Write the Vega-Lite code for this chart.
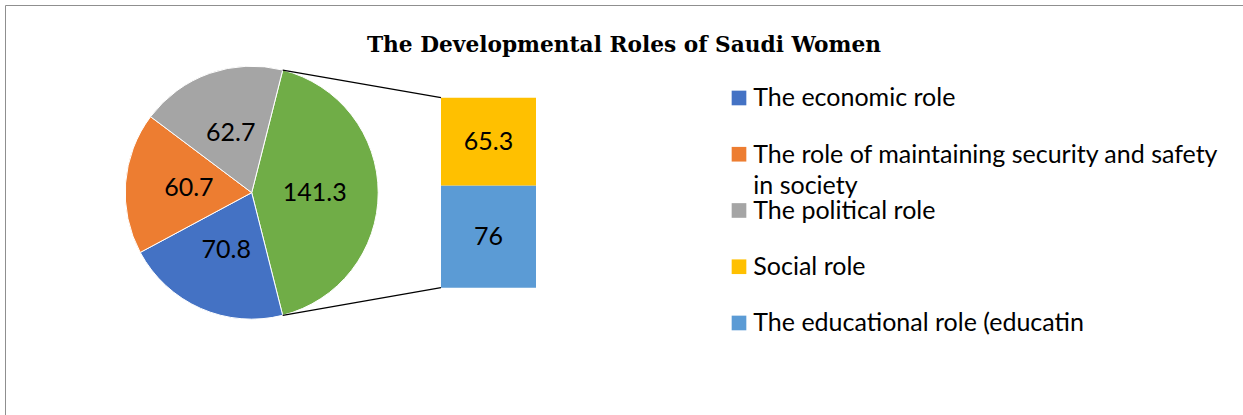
{
  "$schema": "https://vega.github.io/schema/vega-lite/v6.json",
  "width": 1238,
  "height": 410,
  "autosize": {"type": "none"},
  "padding": {"left": 5, "top": 5, "right": 0, "bottom": 0},
  "background": "#ffffff",
  "config": {"view": {"stroke": "#8f8f8f", "strokeWidth": 1}},
  "title": {
    "text": "The Developmental Roles of Saudi Women",
    "anchor": "middle",
    "frame": "group",
    "offset": -69,
    "baseline": "alphabetic",
    "font": "DejaVu Serif",
    "fontSize": 21.7,
    "fontWeight": "bold",
    "color": "#000000"
  },
  "datasets": {
    "pie": [
      {"role": "Other", "value": 141.3, "idx": 1},
      {"role": "The economic role", "value": 70.8, "idx": 2},
      {"role": "The role of maintaining security and safety in society", "value": 60.7, "idx": 3},
      {"role": "The political role", "value": 62.7, "idx": 4}
    ],
    "bar": [
      {"role": "The educational role (educatin", "value": 76, "idx": 1},
      {"role": "Social role", "value": 65.3, "idx": 2}
    ],
    "legend": [
      {"role": "The economic role", "label": "The economic role", "idx": 1},
      {"role": "The role of maintaining security and safety in society", "label": ["The role of maintaining security and safety", "in society"], "idx": 2},
      {"role": "The political role", "label": "The political role", "idx": 3},
      {"role": "Social role", "label": "Social role", "idx": 4},
      {"role": "The educational role (educatin", "label": "The educational role (educatin", "idx": 5}
    ]
  },
  "resolve": {"scale": {"y": "independent"}},
  "layer": [
    {
      "layer": [
        {
          "data": {"name": "pie"},
          "mark": {"type": "arc", "outerRadius": 126.5, "stroke": "#ffffff", "strokeWidth": 1},
          "encoding": {
            "x": {"datum": 0, "type": "quantitative", "scale": {"domain": [-246.7, 991.3], "nice": false, "zero": false}, "axis": null},
            "y": {"datum": 70.65, "type": "quantitative", "scale": {"domain": [-94.7, 210.2], "nice": false, "zero": false}, "axis": null},
            "theta": {"field": "value", "type": "quantitative", "stack": true, "scale": {"range": [0.248, 6.531]}},
            "order": {"field": "idx", "type": "quantitative"},
            "color": {
              "field": "role", "type": "nominal", "legend": null,
              "scale": {
                "domain": ["The economic role", "The role of maintaining security and safety in society", "The political role", "Social role", "The educational role (educatin", "Other"],
                "range": ["#4472C4", "#ED7D31", "#A5A5A5", "#FFC000", "#5B9BD5", "#70AD47"]
              }
            }
          }
        },
        {
          "data": {"name": "pie"},
          "mark": {"type": "text", "radius": 63, "font": "Lato", "fontSize": 25, "color": "#000000", "align": "center", "baseline": "middle"},
          "encoding": {
            "x": {"datum": 0, "type": "quantitative", "scale": {"domain": [-246.7, 991.3], "nice": false, "zero": false}, "axis": null},
            "y": {"datum": 70.65, "type": "quantitative", "scale": {"domain": [-94.7, 210.2], "nice": false, "zero": false}, "axis": null},
            "theta": {"field": "value", "type": "quantitative", "stack": true, "scale": {"range": [0.248, 6.531]}},
            "order": {"field": "idx", "type": "quantitative"},
            "detail": {"field": "role", "type": "nominal"},
            "text": {"field": "value", "type": "quantitative"}
          }
        },
        {
          "data": {"name": "bar"},
          "transform": [
            {"stack": "value", "groupby": [], "sort": [{"field": "idx", "order": "ascending"}], "as": ["v0", "v1"]}
          ],
          "mark": {"type": "rect"},
          "encoding": {
            "x": {"datum": 189.3, "type": "quantitative", "scale": {"domain": [-246.7, 991.3], "nice": false, "zero": false}, "axis": null},
            "x2": {"datum": 284.3},
            "y": {"field": "v0", "type": "quantitative", "scale": {"domain": [-94.7, 210.2], "nice": false, "zero": false}, "axis": null},
            "y2": {"field": "v1"},
            "color": {
              "field": "role", "type": "nominal", "legend": null,
              "scale": {
                "domain": ["The economic role", "The role of maintaining security and safety in society", "The political role", "Social role", "The educational role (educatin", "Other"],
                "range": ["#4472C4", "#ED7D31", "#A5A5A5", "#FFC000", "#5B9BD5", "#70AD47"]
              }
            }
          }
        },
        {
          "data": {"name": "bar"},
          "mark": {"type": "text", "font": "Lato", "fontSize": 25, "color": "#000000", "align": "center", "baseline": "middle"},
          "encoding": {
            "x": {"datum": 236.8, "type": "quantitative", "scale": {"domain": [-246.7, 991.3], "nice": false, "zero": false}, "axis": null},
            "y": {"field": "value", "type": "quantitative", "stack": "zero", "bandPosition": 0.5, "scale": {"domain": [-94.7, 210.2], "nice": false, "zero": false}, "axis": null},
            "detail": {"field": "role", "type": "nominal"},
            "order": {"field": "idx", "type": "quantitative"},
            "text": {"field": "value", "type": "quantitative"}
          }
        },
        {
          "data": {"values": [{}]},
          "mark": {"type": "rule", "color": "#000000", "strokeWidth": 1.3},
          "encoding": {
            "x": {"datum": 31, "type": "quantitative", "scale": {"domain": [-246.7, 991.3], "nice": false, "zero": false}, "axis": null},
            "y": {"datum": 161.85, "type": "quantitative", "scale": {"domain": [-94.7, 210.2], "nice": false, "zero": false}, "axis": null},
            "x2": {"datum": 189.3},
            "y2": {"datum": 141.3}
          }
        },
        {
          "data": {"values": [{}]},
          "mark": {"type": "rule", "color": "#000000", "strokeWidth": 1.3},
          "encoding": {
            "x": {"datum": 31, "type": "quantitative", "scale": {"domain": [-246.7, 991.3], "nice": false, "zero": false}, "axis": null},
            "y": {"datum": -20.55, "type": "quantitative", "scale": {"domain": [-94.7, 210.2], "nice": false, "zero": false}, "axis": null},
            "x2": {"datum": 189.3},
            "y2": {"datum": 0}
          }
        }
      ]
    },
    {
      "data": {"name": "legend"},
      "layer": [
        {
          "mark": {"type": "point", "shape": "square", "size": 215, "filled": true, "opacity": 1, "strokeWidth": 0},
          "encoding": {
            "x": {"datum": 487.3, "type": "quantitative", "scale": {"domain": [-246.7, 991.3], "nice": false, "zero": false}, "axis": null},
            "y": {"field": "idx", "type": "quantitative", "axis": null, "scale": {"domain": [-0.653, 6.636], "reverse": true, "nice": false, "zero": false}},
            "color": {
              "field": "role", "type": "nominal", "legend": null,
              "scale": {
                "domain": ["The economic role", "The role of maintaining security and safety in society", "The political role", "Social role", "The educational role (educatin", "Other"],
                "range": ["#4472C4", "#ED7D31", "#A5A5A5", "#FFC000", "#5B9BD5", "#70AD47"]
              }
            }
          }
        },
        {
          "mark": {"type": "text", "align": "left", "baseline": "alphabetic", "dy": 8.5, "font": "Lato", "fontSize": 25, "lineHeight": 31, "color": "#000000"},
          "encoding": {
            "x": {"datum": 501.6, "type": "quantitative", "scale": {"domain": [-246.7, 991.3], "nice": false, "zero": false}, "axis": null},
            "y": {"field": "idx", "type": "quantitative", "axis": null, "scale": {"domain": [-0.653, 6.636], "reverse": true, "nice": false, "zero": false}},
            "text": {"field": "label", "type": "nominal"}
          }
        }
      ]
    }
  ]
}
